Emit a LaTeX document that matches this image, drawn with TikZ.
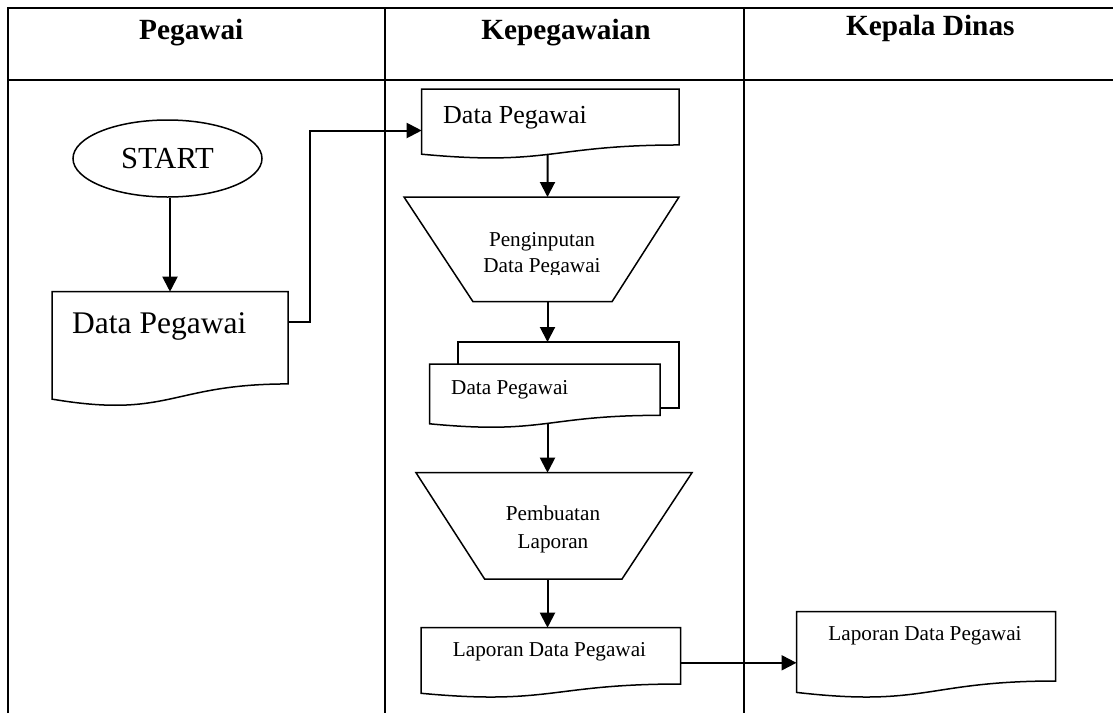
\documentclass[tikz,border=0pt]{standalone}
\usepackage{fontspec}
\setmainfont{Liberation Serif}
\usetikzlibrary{calc,arrows.meta,shapes.geometric}

% font sizes used in the chart
\newcommand\szHead{\fontsize{29.3}{32}\selectfont\bfseries}
\newcommand\szBig{\fontsize{31.5}{36}\selectfont}
\newcommand\szStart{\fontsize{30.6}{34}\selectfont}
\newcommand\szMid{\fontsize{26}{30}\selectfont}
\newcommand\szSmall{\fontsize{21.2}{25}\selectfont}

\tikzset{
  tbl/.style={line width=2pt},
  shapeline/.style={line width=1.5pt},
  holder/.style={rectangle, inner sep=0pt, outer sep=0pt},
  flow/.style={line width=2pt, -{Triangle[length=15pt,width=15pt]}},
  headtxt/.style={anchor=base, inner sep=0pt, font=\szHead},
  txt/.style={inner sep=0pt},
}

% document symbol drawn over a placeholder node: straight top and sides,
% wavy bottom edge
\newcommand\drawdoc[2][]{%
  \draw[shapeline,#1] (#2.north west) -- (#2.north east)
    -- ($(#2.north east)!0.802!(#2.south east)$)
    .. controls ($(#2.north)!0.802!(#2.south)$) and ($(#2.north)!1.1075!(#2.south)$)
    .. ($(#2.north west)!0.934!(#2.south west)$) -- cycle;}

% manual operation symbol: trapezoid, wide side on top
\newcommand\drawtrap[3]{%
  \draw[shapeline] (#1.north west) -- (#1.north east)
    -- ($(#1.south east)+(-#3,0)$) -- ($(#1.south west)+(#2,0)$) -- cycle;}

\begin{document}
\begin{tikzpicture}[x=1pt,y=-1pt]
\useasboundingbox (0,0) rectangle (1113,713);
\fill[white] (0,0) rectangle (1113,713);

% swimlane table
\draw[tbl] (8,713) -- (8,7.5) -- (1113,7.5);
\draw[tbl] (8,80) -- (1113,80);
\draw[tbl] (385,7.5) -- (385,713);
\draw[tbl] (744,7.5) -- (744,713);

\node[headtxt] (h1) at (191.3,39.3) {Pegawai};
\node[headtxt] (h2) at (566,39.3) {Kepegawaian};
\node[headtxt] (h3) at (930.3,35) {Kepala Dinas};

% lane 1: Pegawai
\node[ellipse, draw, shapeline, minimum width=189pt, minimum height=77pt,
      inner sep=0pt, font=\szStart] (start) at (167.5,158.5) {START};
\node[holder, minimum width=236pt, minimum height=115pt] (d1) at (170,349.2) {};
\drawdoc{d1}
\node[txt, anchor=base west, font=\szBig] (d1t) at (72,333) {Data Pegawai};

% lane 2: Kepegawaian
\coordinate (ax) at (547.5,0);

\node[holder, minimum width=257.3pt, minimum height=69.8pt] (d2) at (550.35,123.9) {};
\drawdoc{d2}
\node[txt, anchor=base west, font=\szMid] (d2t) at (443,123) {Data Pegawai};

\node[holder, minimum width=275pt, minimum height=104.7pt] (t1) at (541.5,249.35) {};
\drawtrap{t1}{69}{67}
\begin{scope}
  \clip (t1.north west) rectangle ($(t1.north east)+(0,77.3)$);
  \node[txt, anchor=base, font=\szSmall] (t1a) at (542,246.7) {Penginputan};
  \node[txt, anchor=base, font=\szSmall] (t1b) at (542,272.7) {Data Pegawai};
\end{scope}

\node[holder, minimum width=221pt, minimum height=66pt] (md) at (568.5,375) {};
\draw[shapeline] (md.north west) rectangle (md.south east);
\node[holder, minimum width=230.5pt, minimum height=64pt] (fd) at (544.75,396) {};
\drawdoc[fill=white]{fd}
\node[txt, anchor=base west, font=\szSmall] (fdt) at (451,394) {Data Pegawai};

\node[holder, minimum width=276pt, minimum height=106.3pt] (t2) at (554,525.85) {};
\drawtrap{t2}{68.6}{70}
\node[txt, anchor=base, font=\szSmall] (t2a) at (553,520.7) {Pembuatan};
\node[txt, anchor=base, font=\szSmall] (t2b) at (553,548) {Laporan};

\node[holder, minimum width=259.5pt, minimum height=70.2pt] (d4) at (550.75,662.8) {};
\drawdoc{d4}
\node[txt, anchor=base, font=\szSmall] (d4t) at (549.5,656.7) {Laporan Data Pegawai};

% lane 3: Kepala Dinas
\node[holder, minimum width=259.2pt, minimum height=86.4pt] (d5) at (926.1,654.9) {};
\drawdoc{d5}
\node[txt, anchor=base, font=\szSmall] (d5t) at (925,640) {Laporan Data Pegawai};

% flow connectors
\draw[flow] (d1.north |- start.south) -- (d1.north);
\draw[flow] ($(d1.north east)+(0,30)$) -- ++(22,0) |- ($(d2.west)+(0,6.6)$);
\draw[flow] ($(d2.north -| ax)!0.938!(d2.south -| ax)$) -- (t1.north -| ax);
\draw[flow] (t1.south -| ax) -- (md.north -| ax);
\draw[flow] ($(fd.north -| ax)!0.93!(fd.south -| ax)$) -- (t2.north -| ax);
\draw[flow] (t2.south -| ax) -- (d4.north -| ax);
\draw[flow] (d4.east) -- (d4.east -| d5.west);
\end{tikzpicture}
\end{document}
